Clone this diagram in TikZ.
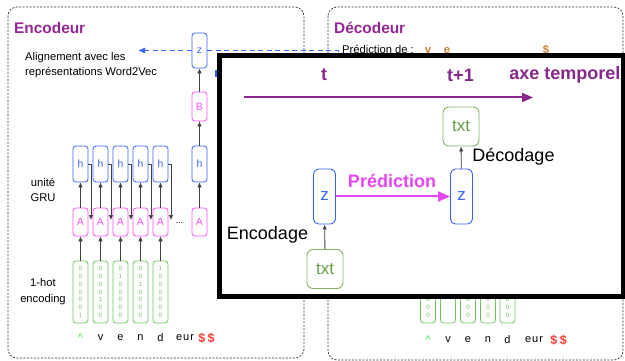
\documentclass[tikz,border=0pt]{standalone}
\usepackage{fontspec}
\setmainfont{Liberation Sans}
\usetikzlibrary{arrows.meta,calc}
\definecolor{purp}{RGB}{150,38,150}
\definecolor{purpd}{RGB}{135,40,140}
\definecolor{blueC}{RGB}{55,100,255}
\definecolor{magC}{RGB}{250,80,250}
\definecolor{magD}{RGB}{228,70,240}
\definecolor{vgreen}{RGB}{110,195,95}
\definecolor{tgreen}{RGB}{130,179,102}
\definecolor{ttext}{RGB}{105,160,70}
\definecolor{redC}{RGB}{255,60,50}
\definecolor{caretG}{RGB}{50,235,50}
\definecolor{brownC}{RGB}{205,125,45}
\tikzset{
  panel/.style={draw=black!80, dash pattern=on 2pt off 1.5pt, rounded corners=9pt, line width=0.7pt},
  hbox/.style={draw=blueC, rounded corners=3pt, minimum width=15pt, minimum height=36pt, inner sep=0pt, text=blueC, font=\fontsize{10.5}{10.5}\selectfont, line width=0.8pt},
  abox/.style={draw=magC, rounded corners=3pt, minimum width=15pt, minimum height=28pt, inner sep=0pt, text=magC, font=\fontsize{10.5}{10.5}\selectfont, line width=0.8pt},
  vbox/.style={draw=vgreen, rounded corners=3pt, minimum width=15pt, minimum height=62pt, inner sep=0pt, text=vgreen, align=center, font=\fontsize{6.3}{7.8}\selectfont, line width=0.8pt},
  lbl/.style={inner sep=0pt, font=\fontsize{11.2}{15}\selectfont},
  ttl/.style={inner sep=0pt, anchor=west, text=purp, font=\fontsize{15.4}{16}\selectfont\bfseries},
  arr/.style={-{Latex[length=5pt,width=4.5pt]}, draw=black!75, line width=0.7pt},
  bdash/.style={draw=blueC, dash pattern=on 5pt off 3.5pt, line width=1pt},
  ltr/.style={inner sep=0pt, font=\fontsize{11}{11}\selectfont},
  dol/.style={inner sep=0pt, text=redC, font=\fontsize{12.5}{12.5}\selectfont\bfseries},
  zbig/.style={draw=blueC, rounded corners=5pt, minimum width=22pt, minimum height=55pt, inner sep=0pt, text=blueC, font=\fontsize{17}{17}\selectfont, line width=0.9pt},
  tbig/.style={draw=tgreen, rounded corners=6pt, minimum width=36pt, minimum height=39pt, inner sep=0pt, text=ttext, font=\fontsize{17}{17}\selectfont, line width=0.9pt},
  big/.style={inner sep=0pt, font=\fontsize{18}{18}\selectfont},
  bigb/.style={inner sep=0pt, font=\fontsize{18}{18}\selectfont\bfseries},
}
\begin{document}
\begin{tikzpicture}[x=1pt,y=-1pt]
\useasboundingbox (0,0) rectangle (625,361);
% panels
\draw[panel] (8,7) rectangle (304,358);
\draw[panel] (328,7) rectangle (623,360);
\node[ttl] (enc) at (14,27.5) {Encodeur};
\node[ttl] (dec) at (334,27.5) {Décodeur};
% encoder content
\node[lbl, anchor=west, align=left] (align) at (25,65.5) {Alignement avec les\\représentations Word2Vec};
\node[lbl, align=center] (gru) at (43,190) {unité\\GRU};
\node[lbl, align=center, font=\fontsize{11.2}{16.5}\selectfont] (hot) at (43,291.5) {1-hot\\encoding};
\foreach \i/\x in {1/80.5,2/100.5,3/120.5,4/140.5,5/160.5,6/199.5} {
  \node[hbox] (h\i) at (\x,164) {h};
  \node[abox] (a\i) at (\x,222) {A};
  \draw[arr] (a\i) -- (h\i);
}
\node[vbox] (v1) at (80.5,292) {0\\0\\0\\0\\0\\0\\1};
\node[vbox] (v2) at (100.5,292) {0\\0\\0\\0\\1\\0\\0};
\node[vbox] (v3) at (120.5,292) {0\\1\\0\\0\\0\\0\\0};
\node[vbox] (v4) at (140.5,292) {0\\0\\1\\0\\0\\0\\0};
\node[vbox] (v5) at (160.5,292) {1\\0\\0\\0\\0\\0\\0};
\foreach \i in {1,...,5} {
  \draw[arr] (v\i) -- (a\i);
  \draw[arr] (h\i.east) -- ++(2.5,0) -- ++(0,56);
}
\node[ltr, font=\fontsize{9}{9}\selectfont] (dots) at (179.5,223) {...};
\node[abox, minimum height=29pt] (b) at (199.5,106.5) {B};
\node[hbox, minimum height=35pt] (z) at (199.5,50.5) {z};
\draw[arr] (h6) -- (b);
\draw[arr] (b) -- (z);
\coordinate (al) at (138,50.5);
\coordinate (dr) at (338,50.5);
\draw[bdash, -{Latex[length=7pt,width=6pt]}] (z.west) -- (al);
\draw[bdash] (z.east) -- (dr) -- ++(0,12);
\fill[blueC] (215,70) rectangle (218.5,77);
% letters left
\node[ltr, text=caretG] (c1) at (80.5,338) {\textasciicircum};
\node[ltr] (l2) at (100.5,338) {v};
\node[ltr] (l3) at (120.5,338) {e};
\node[ltr] (l4) at (140.5,338) {n};
\node[ltr] (l5) at (160.5,338) {d};
\node[ltr] (l6) at (185,338) {e\hspace{1pt}u\hspace{1pt}r};
\node[dol] (l7) at (206.5,338) {\$\hspace{2.5pt}\$};
% decoder content
\node[lbl, anchor=base west] (pred) at (342,53.5) {Prédiction de :};
\node[lbl, anchor=base, text=brownC, font=\fontsize{11.2}{15}\selectfont\bfseries] (p1) at (428,53.5) {v};
\node[lbl, anchor=base, text=brownC, font=\fontsize{11.2}{15}\selectfont\bfseries] (p2) at (447,53.5) {e};
\node[lbl, anchor=base, text=brownC, font=\fontsize{11.2}{15}\selectfont\bfseries] (p3) at (546,53.5) {\$};
\node[vbox] (w1) at (428,292) {0\\0\\0\\0\\0\\0\\0};
\node[vbox] (w2) at (448,292) {};
\node[vbox] (w3) at (468,292) {0\\0\\0\\0\\0\\0\\0};
\node[vbox] (w4) at (488,292) {0\\0\\0\\0\\0\\0\\0};
\node[vbox] (w5) at (507.5,292) {0\\0\\0\\0\\0\\0\\0};
\node[ltr, text=caretG] (d1) at (428,340) {\textasciicircum};
\node[ltr] (d2) at (448,340) {v};
\node[ltr] (d3) at (468,340) {e};
\node[ltr] (d4) at (488,340) {n};
\node[ltr] (d5) at (507.5,340) {d};
\node[ltr] (d6) at (534,340) {e\hspace{1pt}u\hspace{1pt}r};
\node[dol] (d7) at (558.5,340) {\$\hspace{2.5pt}\$};
% inset
\draw[line width=5pt, fill=white] (219.5,55.5) rectangle (623,296);
\node[bigb, text=purpd] (t0) at (324,75) {t};
\node[bigb, text=purpd] (t1) at (460.5,75) {t+1};
\node[bigb, text=purpd] (axe) at (565,75) {axe temporel};
\coordinate (ta) at (244,97.5);
\coordinate (tb) at (533,97.5);
\draw[purpd, line width=2pt, -{Triangle[length=11pt,width=9pt]}] (ta) -- (tb);
\node[zbig] (z1) at (324.5,196.5) {z};
\node[zbig] (z2) at (461.5,196.5) {z};
\node[tbig] (x1) at (325,269) {txt};
\node[tbig] (x2) at (461,126.5) {txt};
\draw[arr, line width=0.9pt] (x1) -- (z1);
\draw[arr, line width=0.9pt] (z2) -- (x2);
\draw[magD, line width=2pt, -{Triangle[length=12pt,width=10pt]}] (z1) -- (z2);
\node[bigb, text=magD] (pr) at (392,181) {Prédiction};
\node[big] (encg) at (267.5,235) {Encodage};
\node[big] (decg) at (513.5,157) {Décodage};
\end{tikzpicture}
\end{document}
